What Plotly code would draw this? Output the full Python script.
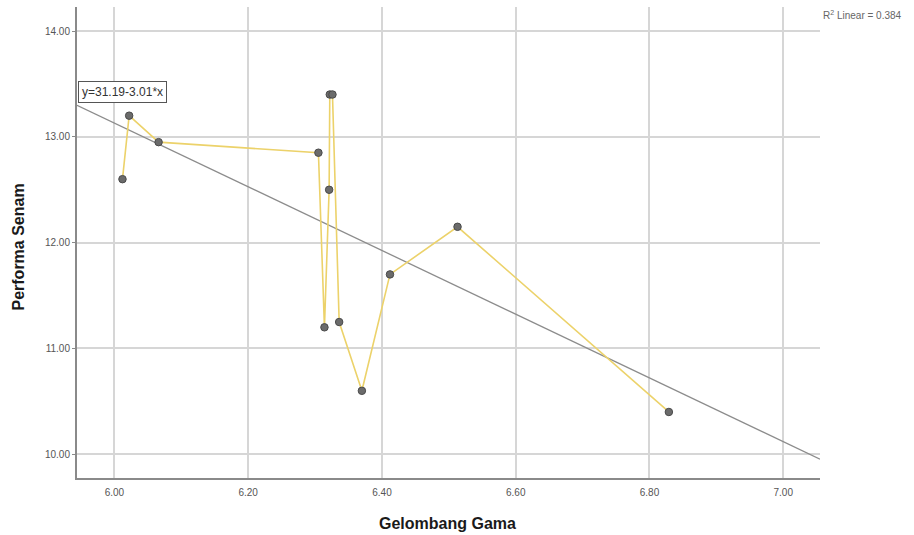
import plotly.graph_objects as go

# Data (sorted by Gelombang Gama)
gelombang_gama = [6.012, 6.022, 6.066, 6.305, 6.314, 6.321, 6.322, 6.326, 6.336, 6.370, 6.412, 6.513, 6.829]
performa_senam = [12.60, 13.20, 12.95, 12.85, 11.20, 12.50, 13.40, 13.40, 11.25, 10.60, 11.70, 12.15, 10.40]

# Fit line as displayed: y = 31.19 - 3.01*x
fit_intercept = 31.19
fit_slope = -3.01
r2_linear = 0.384

x_range = [5.944, 7.055]
y_range = [9.776, 14.227]
x_ticks = [6.0, 6.2, 6.4, 6.6, 6.8, 7.0]
y_ticks = [10.0, 11.0, 12.0, 13.0, 14.0]

tick_font = dict(family="Liberation Sans Narrow, Liberation Sans, Arial", size=10, color="#555555")
grid_c = "#d6d6d6"

fig = go.Figure()

fit_x = x_range
fit_y = [fit_intercept + fit_slope * v for v in fit_x]
fig.add_trace(go.Scatter(x=fit_x, y=fit_y, mode="lines",
                         line=dict(color="#8c8c8c", width=1.3),
                         hoverinfo="skip", showlegend=False, cliponaxis=True))

fig.add_trace(go.Scatter(x=gelombang_gama, y=performa_senam, mode="lines",
                         line=dict(color="#ecd26a", width=1.6),
                         showlegend=False))
fig.add_trace(go.Scatter(x=gelombang_gama, y=performa_senam, mode="markers",
                         marker=dict(size=7.5, color="#6b6b6b",
                                     line=dict(color="#4a4a4a", width=1)),
                         showlegend=False))

fig.update_layout(
    width=914, height=535,
    margin=dict(l=77, r=94, t=7, b=57),
    paper_bgcolor="white", plot_bgcolor="white",
    xaxis=dict(range=x_range, tickvals=x_ticks, ticktext=[f"{v:.2f}" for v in x_ticks],
               showgrid=True, gridcolor=grid_c, gridwidth=1.5, zeroline=False,
               showline=True, linecolor="#8a8a8a", linewidth=2,
               ticks="", tickfont=tick_font, ticklabelstandoff=4),
    yaxis=dict(range=y_range, tickvals=y_ticks, ticktext=[f"{v:.2f}" for v in y_ticks],
               showgrid=True, gridcolor=grid_c, gridwidth=1.5, zeroline=False,
               showline=True, linecolor="#8a8a8a", linewidth=2,
               ticks="outside", ticklen=3, tickcolor="#8a8a8a", tickfont=tick_font),
    annotations=[
        dict(text="<b>Gelombang Gama</b>", xref="paper", yref="paper", x=0.499, y=-0.075,
             xanchor="center", yanchor="top", showarrow=False,
             font=dict(family="Liberation Sans, Arial", size=16, color="#1a1a1a"),
             ),
        dict(text="<b>Performa Senam</b>", xref="paper", yref="paper", x=-0.079, y=0.49,
             xanchor="center", yanchor="middle", textangle=-90, showarrow=False,
             font=dict(family="Liberation Sans, Arial", size=16, color="#1a1a1a")),
        dict(text=f"R<sup>2</sup> Linear = {r2_linear}", xref="paper", yref="paper",
             x=1.002, y=0.982, xanchor="left", yanchor="middle", showarrow=False,
             font=dict(family="Liberation Sans Narrow, Liberation Sans, Arial", size=10, color="#666666")),
        dict(text=f"y={fit_intercept}-{abs(fit_slope)}*x", xref="paper", yref="y",
             x=0.001, y=13.42, xanchor="left", yanchor="middle", showarrow=False,
             bgcolor="white", bordercolor="#555555", borderwidth=1, borderpad=3,
             font=dict(family="Liberation Sans Narrow, Liberation Sans, Arial", size=12, color="#333333")),
    ],
)

fig.write_html("out.html", config={"displayModeBar": False},
               post_script="document.body.style.margin='0';document.body.style.overflow='hidden';")
